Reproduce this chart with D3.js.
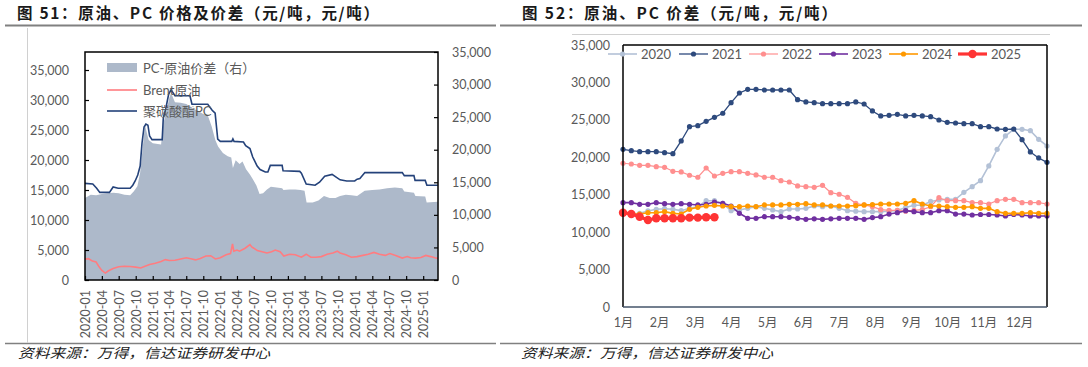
<!DOCTYPE html>
<html><head><meta charset="utf-8">
<script src="https://cdn.jsdelivr.net/npm/d3@7/dist/d3.min.js"></script>
<style>body{margin:0;background:#fff}svg{display:block}</style>
</head><body>
<svg id="c" width="1088" height="367"></svg>
<script>
// ---------- DATA ----------
const leftTicks = [0,5000,10000,15000,20000,25000,30000,35000];
const rightTicks = [0,5000,10000,15000,20000,25000,30000,35000];
const quarterLabels = ["2020-01","2020-04","2020-07","2020-10","2021-01","2021-04","2021-07","2021-10","2022-01","2022-04","2022-07","2022-10","2023-01","2023-04","2023-07","2023-10","2024-01","2024-04","2024-07","2024-10","2025-01"];
const legend1 = ["PC-原油价差（右）","Brent原油","聚碳酸酯PC"];

const pcPrice = [["2020-01-01",16100],["2020-02-12",16000],["2020-03-04",15300],["2020-03-21",14600],["2020-05-12",14600],["2020-06-01",15500],["2020-06-28",15300],["2020-09-01",15300],["2020-09-15",15800],["2020-09-28",16500],["2020-10-12",17500],["2020-10-25",19000],["2020-11-04",22800],["2020-11-15",25500],["2020-11-25",26000],["2020-12-06",25800],["2020-12-15",24000],["2020-12-28",23400],["2021-02-21",23400],["2021-02-27",27000],["2021-03-12",28500],["2021-03-28",31000],["2021-04-10",31700],["2021-05-01",30700],["2021-07-21",30700],["2021-08-01",29300],["2021-10-25",29300],["2021-11-18",28300],["2021-12-04",27800],["2021-12-18",23500],["2022-01-01",23100],["2022-03-04",23100],["2022-03-10",23500],["2022-03-16",23100],["2022-05-06",23000],["2022-05-18",22400],["2022-06-10",21900],["2022-06-25",20500],["2022-07-19",19000],["2022-08-04",18400],["2022-09-01",18000],["2022-09-15",18000],["2022-09-28",19100],["2022-12-01",19100],["2022-12-06",18200],["2023-03-06",18100],["2023-03-15",17800],["2023-04-10",16000],["2023-05-28",15800],["2023-06-21",16300],["2023-07-19",17300],["2023-08-28",17600],["2023-10-10",16700],["2023-11-15",16500],["2023-12-28",16500],["2024-01-10",16800],["2024-01-25",16900],["2024-02-21",17900],["2024-09-10",17900],["2024-09-21",17400],["2024-11-12",17400],["2024-11-18",16600],["2025-01-12",16600],["2025-01-21",15800],["2025-03-21",15800]];

const brentPrice = [["2020-01-01",3480],["2020-01-20",3550],["2020-02-10",3150],["2020-03-01",3000],["2020-03-15",2300],["2020-04-01",1600],["2020-04-20",1150],["2020-05-05",1500],["2020-06-01",1900],["2020-07-01",2200],["2020-08-01",2300],["2020-09-01",2250],["2020-10-01",2150],["2020-10-28",2000],["2020-11-20",2300],["2020-12-15",2600],["2021-01-15",2800],["2021-02-15",3100],["2021-03-10",3400],["2021-04-01",3250],["2021-05-01",3300],["2021-06-01",3500],["2021-07-01",3700],["2021-08-01",3500],["2021-08-20",3350],["2021-09-15",3600],["2021-10-15",4000],["2021-11-10",4050],["2021-12-05",3500],["2022-01-01",3700],["2022-02-01",4200],["2022-02-25",4400],["2022-03-08",6000],["2022-03-15",4800],["2022-04-01",5000],["2022-04-15",4800],["2022-05-15",5300],["2022-06-10",5900],["2022-06-20",5500],["2022-07-01",5300],["2022-07-20",4900],["2022-08-15",4700],["2022-09-10",4500],["2022-10-05",4700],["2022-10-25",5000],["2022-11-20",4700],["2022-12-10",4000],["2023-01-10",4300],["2023-02-10",4200],["2023-03-15",3800],["2023-04-10",4300],["2023-05-05",3800],["2023-06-01",3800],["2023-07-01",3900],["2023-08-01",4300],["2023-09-01",4500],["2023-09-25",4800],["2023-10-10",4500],["2023-11-10",4200],["2023-12-10",3800],["2024-01-10",3900],["2024-02-10",4100],["2024-03-10",4300],["2024-04-10",4600],["2024-05-10",4300],["2024-06-10",4100],["2024-07-05",4400],["2024-08-05",4100],["2024-09-10",3650],["2024-10-07",3900],["2024-10-25",3700],["2024-11-20",3650],["2024-12-20",3750],["2025-01-15",4100],["2025-02-10",3900],["2025-03-05",3700],["2025-03-21",3600]];

const spread = [["2020-01-01",12600],["2020-02-01",13100],["2020-03-01",13000],["2020-04-01",13200],["2020-05-01",13300],["2020-06-01",13400],["2020-07-01",13300],["2020-08-01",13100],["2020-09-01",13000],["2020-09-20",13600],["2020-10-10",14400],["2020-10-25",16500],["2020-11-05",19500],["2020-11-20",23800],["2020-12-01",22500],["2020-12-10",21500],["2021-01-01",21000],["2021-02-15",20800],["2021-02-27",24000],["2021-03-15",25800],["2021-04-01",28000],["2021-04-10",28700],["2021-05-01",27300],["2021-06-01",27200],["2021-07-01",27000],["2021-07-25",26600],["2021-08-10",26300],["2021-09-01",26000],["2021-10-01",25500],["2021-10-25",25300],["2021-11-15",23600],["2021-12-05",21500],["2021-12-20",20500],["2022-01-15",19500],["2022-02-10",19000],["2022-03-01",18800],["2022-03-10",17200],["2022-03-25",18400],["2022-04-15",17800],["2022-05-01",18200],["2022-05-20",17000],["2022-06-10",16200],["2022-06-25",15500],["2022-07-15",14500],["2022-08-01",13200],["2022-08-20",13300],["2022-09-10",13900],["2022-10-01",14300],["2022-11-01",14200],["2022-12-01",14100],["2022-12-08",13800],["2023-01-10",13900],["2023-02-10",13900],["2023-03-10",13800],["2023-04-01",13700],["2023-04-12",11900],["2023-05-15",11900],["2023-06-15",12200],["2023-07-15",12900],["2023-08-15",12600],["2023-09-15",12600],["2023-10-10",12900],["2023-11-10",13100],["2023-12-10",13000],["2024-01-10",12900],["2024-02-20",13700],["2024-04-01",13800],["2024-05-10",13900],["2024-06-20",14100],["2024-08-01",14200],["2024-09-10",14100],["2024-09-21",13600],["2024-11-12",13400],["2024-11-20",12900],["2025-01-12",12800],["2025-01-20",11900],["2025-03-21",12000]];

const monthLabels = ["1月","2月","3月","4月","5月","6月","7月","8月","9月","10月","11月","12月"];
const yearNames = ["2020","2021","2022","2023","2024","2025"];
const y2020 = [12600,12420,12520,12830,13050,13130,13050,12870,13180,13400,14200,14200,13850,12870,12960,13180,13400,13180,12960,12740,13090,13090,13180,13490,13400,13490,13180,12870,12800,12740,12740,12740,12800,12900,13300,13600,13600,14100,14300,14390,14390,15320,16070,16870,18840,21070,22850,23740,23740,23560,22400,21510];
const y2021 = [21070,20880,20750,20750,20750,20610,20480,22180,24090,24220,24800,25340,25880,27300,28590,29080,29080,28990,28990,28990,28990,27700,27390,27300,27160,27160,27160,27160,27390,27120,26190,25520,25610,25740,25520,25610,25520,25420,24980,24670,24580,24490,24490,24090,24090,23780,23740,23780,22350,20710,19910,19330];
const y2022 = [19200,19100,18930,18930,18750,18660,18130,18040,17600,17330,18570,17500,17860,18080,18080,17860,17640,17330,17330,16870,16700,16170,16070,15990,16260,15270,15060,14650,13850,13630,13400,13000,12900,12900,12800,12900,13000,13400,14600,14200,14200,14200,13940,13940,13760,14200,14390,14390,13940,13940,13940,13760];
const y2023 = [13940,13940,13720,13720,13940,13800,13720,13800,13720,13630,13720,14030,13850,13490,12520,11850,11850,12060,12060,12060,11980,11850,11710,11780,11710,11780,11850,11850,11850,11710,11940,12060,12420,12600,12870,12740,12600,12600,12870,12870,12420,12420,12290,12360,12360,12290,12160,12360,12290,12160,12160,12160];
const y2024 = [12500,12420,12420,12600,12600,12740,12510,12420,13050,13320,13490,13580,13490,13400,13400,13490,13400,13630,13630,13630,13720,13720,13800,13630,13630,13490,13490,13490,13540,13630,13680,13760,13760,13760,13850,14200,13760,13490,13490,13400,13320,13320,13400,13180,13180,12740,12510,12510,12510,12600,12510,12510];
const y2025 = [12600,12420,12060,11620,11850,11850,11850,11850,11940,11940,11980,11980];

// ---------- DRAW ----------
const svg = d3.select("#c");
const LAT = "Lato, 'Noto Sans CJK SC', sans-serif";
const CJK = "'Noto Sans CJK SC', sans-serif";
const GREY = "#595959";
const parse = d3.timeParse("%Y-%m-%d");

// titles & frame lines
svg.append("text").attr("x",17).attr("y",19).attr("font-family",CJK).attr("font-weight","bold")
  .attr("font-size",15.5).attr("fill","#1a1a1a").attr("textLength",362).attr("lengthAdjust","spacing")
  .text("图 51：原油、PC 价格及价差（元/吨，元/吨）");
svg.append("text").attr("x",522).attr("y",19).attr("font-family",CJK).attr("font-weight","bold")
  .attr("font-size",15.5).attr("fill","#1a1a1a").attr("textLength",315).attr("lengthAdjust","spacing")
  .text("图 52：原油、PC 价差（元/吨，元/吨）");
[[5,496],[500,1082]].forEach(([a,b])=>{
  svg.append("line").attr("x1",a).attr("x2",b).attr("y1",25.5).attr("y2",25.5).attr("stroke","#808080").attr("stroke-width",2);
  svg.append("line").attr("x1",a).attr("x2",b).attr("y1",343.5).attr("y2",343.5).attr("stroke","#808080").attr("stroke-width",1.5);
});
svg.append("line").attr("x1",27.5).attr("x2",27.5).attr("y1",28).attr("y2",343).attr("stroke","#d0d0d0");
svg.append("line").attr("x1",572).attr("x2",1050).attr("y1",34.5).attr("y2",34.5).attr("stroke","#d0d0d0");
[18,521].forEach(x=>svg.append("text").attr("x",x).attr("y",358).attr("font-family",CJK)
  .attr("font-size",13.5).attr("font-style","italic").attr("fill","#222").attr("textLength",252)
  .attr("lengthAdjust","spacingAndGlyphs").text("资料来源：万得，信达证券研发中心"));

// ---------- CHART 1 ----------
const L = {l:85,r:438,t:52,b:280};
const x1 = d3.scaleTime().domain([new Date(2020,0,1), new Date(2025,2,22)]).range([L.l,L.r]);
const yL = d3.scaleLinear().domain([0,38000]).range([L.b,L.t]);
const yR = d3.scaleLinear().domain([0,35000]).range([L.b,L.t]);
const g1 = svg.append("g");

g1.append("path").datum(spread).attr("fill","#ADB9CA")
  .attr("d", d3.area().x(d=>x1(parse(d[0]))).y0(yR(0)).y1(d=>yR(d[1])));
g1.append("path").datum(brentPrice).attr("fill","none").attr("stroke","#FF7C80").attr("stroke-width",1.6)
  .attr("d", d3.line().x(d=>x1(parse(d[0]))).y(d=>yL(d[1])));
g1.append("path").datum(pcPrice).attr("fill","none").attr("stroke","#24427A").attr("stroke-width",1.6)
  .attr("d", d3.line().x(d=>x1(parse(d[0]))).y(d=>yL(d[1])));

g1.append("rect").attr("x",L.l).attr("y",L.t).attr("width",L.r-L.l).attr("height",L.b-L.t)
  .attr("fill","none").attr("stroke","#000").attr("stroke-width",1.5);

const fmt = d3.format(",");
const ax1 = g1.append("g").attr("transform",`translate(${L.l},0)`)
  .call(d3.axisLeft(yL).tickValues(leftTicks).tickSize(-4).tickPadding(16).tickFormat(fmt));
const ax2 = g1.append("g").attr("transform",`translate(${L.r},0)`)
  .call(d3.axisRight(yR).tickValues(rightTicks).tickSize(-4).tickPadding(14).tickFormat(fmt));
const qDates = quarterLabels.map(s=>parse(s+"-01"));
const ax3 = g1.append("g").attr("transform",`translate(0,${L.b})`)
  .call(d3.axisBottom(x1).tickValues(qDates).tickSize(-4).tickFormat((d,i)=>quarterLabels[i]));
ax3.selectAll("text").attr("transform","rotate(-90)").attr("x",-10).attr("y",0).attr("dy","0.35em")
  .style("text-anchor","end");
[ax1,ax2,ax3].forEach(a=>{
  a.select(".domain").remove();
  a.selectAll("line").attr("stroke","#000").attr("stroke-width",1.2);
  a.selectAll("text").attr("font-family",LAT).attr("font-size",12.5).attr("fill",GREY);
});

// legend chart 1
const lg1 = g1.append("g");
lg1.append("rect").attr("x",107).attr("y",63).attr("width",30).attr("height",9).attr("fill","#ADB9CA");
lg1.append("line").attr("x1",107).attr("x2",137).attr("y1",90).attr("y2",90).attr("stroke","#FF7C80").attr("stroke-width",1.6);
lg1.append("line").attr("x1",107).attr("x2",137).attr("y1",111).attr("y2",111).attr("stroke","#24427A").attr("stroke-width",1.6);
[68,90,111].forEach((y,i)=>lg1.append("text").attr("x",143).attr("y",y).attr("dy","0.36em")
  .attr("font-family",LAT).attr("font-size",13).attr("fill",GREY).text(legend1[i]));

// ---------- CHART 2 ----------
const R = {l:623,r:1047,t:45,b:307};
const x2 = d3.scaleLinear().domain([0,51]).range([R.l,R.r]);
const y2 = d3.scaleLinear().domain([0,35000]).range([R.b,R.t]);
const g2 = svg.append("g");
const series = [y2020,y2021,y2022,y2023,y2024,y2025];
const colors = ["#B3C1D6","#2E4A7D","#FF8F8F","#7030A0","#FF9900","#FF3434"];
const widths = [1.6,1.3,1.2,1.6,1.6,3.2];
const radii = [2.6,2.6,2.6,2.6,2.6,4.2];

series.forEach((s,k)=>{
  g2.append("path").datum(s).attr("fill","none").attr("stroke",colors[k]).attr("stroke-width",widths[k])
    .attr("d", d3.line().x((d,i)=>x2(i)).y(d=>y2(d)));
  g2.append("g").selectAll("circle").data(s).join("circle")
    .attr("cx",(d,i)=>x2(i)).attr("cy",d=>y2(d)).attr("r",radii[k]).attr("fill",colors[k]);
});

g2.append("line").attr("x1",R.l).attr("x2",R.r).attr("y1",R.t).attr("y2",R.t).attr("stroke","#000").attr("stroke-width",1.5);
g2.append("line").attr("x1",R.r).attr("x2",R.r).attr("y1",R.t).attr("y2",R.b).attr("stroke","#000").attr("stroke-width",1.5);
g2.append("line").attr("x1",R.l).attr("x2",R.l).attr("y1",R.t).attr("y2",R.b).attr("stroke","#000").attr("stroke-width",1.5);
g2.append("line").attr("x1",R.l).attr("x2",R.r).attr("y1",R.b).attr("y2",R.b).attr("stroke","#44546A").attr("stroke-width",1.5);

const bx1 = g2.append("g").attr("transform",`translate(${R.l},0)`)
  .call(d3.axisLeft(y2).tickValues(rightTicks).tickSize(0).tickPadding(13).tickFormat(fmt));
const bx2 = g2.append("g").attr("transform",`translate(0,${R.b})`)
  .call(d3.axisBottom(x2).tickValues(d3.range(12).map(i=>i*52/12)).tickSize(0).tickFormat((d,i)=>monthLabels[i]));
bx2.selectAll("text").attr("y",16).attr("dy","0.35em");
[bx1,bx2].forEach(a=>{
  a.select(".domain").remove();
  a.selectAll("text").attr("font-family",LAT).attr("font-size",12.5).attr("fill",GREY);
});

// legend chart 2
const lx = [608,679,749,819,889,958];
yearNames.forEach((nm,k)=>{
  const g = g2.append("g");
  g.append("line").attr("x1",lx[k]).attr("x2",lx[k]+29).attr("y1",54).attr("y2",54)
    .attr("stroke",colors[k]).attr("stroke-width",widths[k]);
  g.append("circle").attr("cx",lx[k]+14.5).attr("cy",54).attr("r",radii[k]).attr("fill",colors[k]);
  g.append("text").attr("x",lx[k]+33).attr("y",54).attr("dy","0.36em").attr("font-family",LAT)
    .attr("font-size",13).attr("fill",GREY).text(nm);
});
</script>
</body></html>
